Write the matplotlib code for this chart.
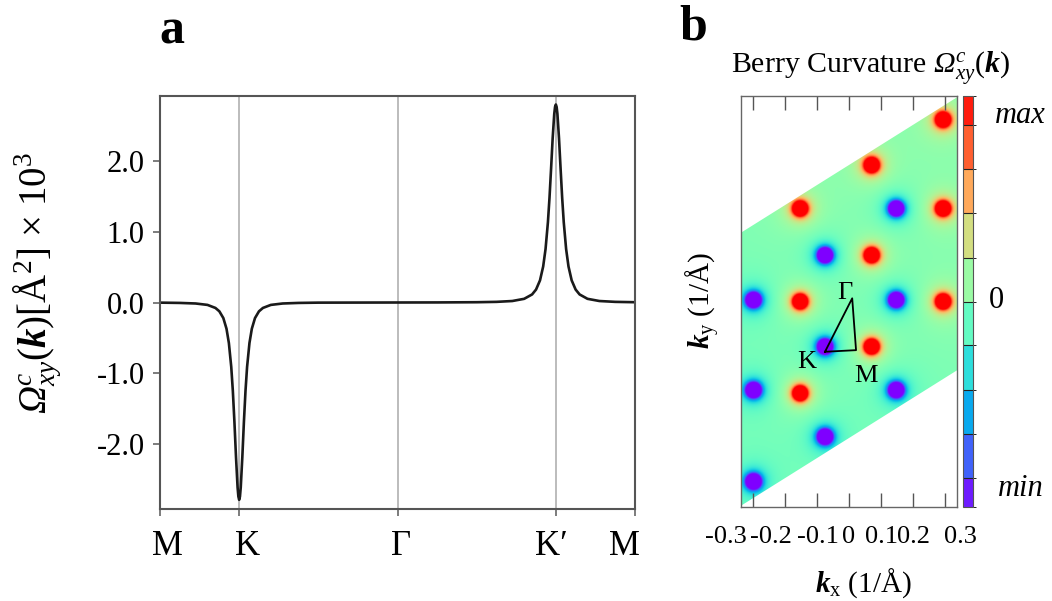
import matplotlib
matplotlib.use("Agg")
import matplotlib.pyplot as plt
import matplotlib.transforms as mtransforms
import numpy as np
from matplotlib.colors import ListedColormap, BoundaryNorm
from matplotlib.patches import Polygon

plt.rcParams['font.family'] = ['Liberation Serif', 'DejaVu Serif']
# italic Omega needs the custom set: rm is italic here, sf is the upright face
plt.rcParams['mathtext.fontset'] = 'custom'
plt.rcParams['mathtext.rm'] = 'Liberation Serif:italic'
plt.rcParams['mathtext.it'] = 'Liberation Serif:italic'
plt.rcParams['mathtext.bf'] = 'Liberation Serif:italic:bold'
plt.rcParams['mathtext.sf'] = 'Liberation Serif'

# ---- panel a: Berry curvature along M-K-Gamma-K'-M (x in units of |KM|)
path_pos = [0, 1, 3, 5, 6]
path_labels = ["M", "K", "Γ", "K′", "M"]
path_x = [0.00, 0.25, 0.45, 0.60, 0.70, 0.75, 0.80, 0.84, 0.87, 0.90,
          0.92, 0.94, 0.96, 0.98, 0.99, 1.00, 1.01, 1.02, 1.04, 1.06,
          1.08, 1.10, 1.13, 1.16, 1.20, 1.25, 1.30, 1.40, 1.55, 1.75,
          2.00, 2.50, 3.00, 3.50, 4.00, 4.25, 4.45, 4.60, 4.70, 4.75,
          4.80, 4.84, 4.87, 4.90, 4.92, 4.94, 4.96, 4.98, 4.99, 5.00,
          5.01, 5.02, 5.04, 5.06, 5.08, 5.10, 5.13, 5.16, 5.20, 5.25,
          5.30, 5.40, 5.55, 5.75, 6.00]
berry = [-0.002, -0.006, -0.014, -0.034, -0.077, -0.125, -0.220, -0.371, -0.573, -0.911,
         -1.249, -1.686, -2.184, -2.614, -2.744, -2.790, -2.744, -2.614, -2.184, -1.686,
         -1.249, -0.911, -0.573, -0.371, -0.220, -0.125, -0.077, -0.034, -0.014, -0.006,
         -0.002, -0.001, 0.000, 0.001, 0.004, 0.009, 0.021, 0.052, 0.114, 0.183,
         0.313, 0.509, 0.755, 1.135, 1.481, 1.894, 2.324, 2.667, 2.766, 2.800,
         2.766, 2.667, 2.324, 1.894, 1.481, 1.135, 0.755, 0.509, 0.313, 0.183,
         0.114, 0.052, 0.021, 0.009, 0.004]
ytick_vals = [-2.0, -1.0, 0.0, 1.0, 2.0]
ytick_text = ["-2.0", "-1.0", "0.0", "1.0", "2.0"]

# ---- panel b: Berry curvature map
red_kx = [0.295, 0.071, -0.153, 0.295, 0.071, -0.153, 0.295, 0.071, -0.153]
red_ky = [0.569, 0.427, 0.291, 0.291, 0.145, 0.000, 0.000, -0.141, -0.287]
blue_kx = [0.148, -0.075, -0.299, 0.148, -0.075, -0.299, 0.148, -0.075, -0.299]
blue_ky = [0.291, 0.145, 0.005, 0.005, -0.141, -0.277, -0.277, -0.423, -0.563]
zone_x = [-0.3375, 0.3375, 0.3375, -0.3375]
zone_y = [-0.638, -0.215, 0.638, 0.215]
tri_x = [-0.075, 0.022, 0.010, -0.075]   # K, M, Gamma, K
tri_y = [-0.157, -0.152, 0.010, -0.157]
tri_labels = ["K", "M", "Γ"]
tri_lx = [-0.132, 0.053, -0.012]
tri_ly = [-0.190, -0.232, 0.027]
kx_ticks = [-0.3, -0.2, -0.1, 0.0, 0.1, 0.2, 0.3]
kx_text = ["-0.3", "-0.2", "-0.1", "0", "0.1", "0.2", "0.3"]
cbar_bounds = [-1.0, -0.857, -0.643, -0.429, -0.214, 0.0, 0.214, 0.429, 0.643, 0.857, 1.0]
cbar_text = ["max", "0", "min"]

W, H = 1052, 601
fig = plt.figure(figsize=(W / 100, H / 100), dpi=100)


def shift(lab, dx):
    lab.set_transform(lab.get_transform() + mtransforms.ScaledTranslation(dx / 100, 0, fig.dpi_scale_trans))


# ================= panel a
ax1 = fig.add_axes([160 / W, 1 - 509 / H, 475 / W, 413 / H])
for p in path_pos[1:-1]:
    ax1.axvline(p, color='#a9a9a9', lw=1.1, zorder=0)
ax1.plot(path_x, berry, color='#1a1a1a', lw=1.9)
ax1.set_xlim(0, 6)
ax1.set_ylim(-2.92, 2.92)
ax1.set_xticks(path_pos, path_labels, fontsize=25)
ax1.set_yticks(ytick_vals, ytick_text, fontsize=22)
ax1.tick_params(axis='x', direction='out', length=5, width=1.2, color='#666666', pad=10)
ax1.tick_params(axis='y', direction='out', length=5, width=1.2, color='#666666', pad=6)
for s in ax1.spines.values():
    s.set_color('#555555')
    s.set_linewidth(1.5)
for lab, dx in zip(ax1.get_xticklabels(), [7, 8, 4, -4, -11]):
    shift(lab, dx)

fig.text(38 / W, 1 - 283 / H,
         r'$\Omega^{c}_{xy}\mathsf{(}\mathbf{k}\mathsf{)[Å}^{\mathsf{2}}\mathsf{]}\ \mathsf{\times}\ \mathsf{10}^{\mathsf{3}}$',
         rotation=90, ha='center', va='center', fontsize=28)
fig.text(172 / W, 1 - 32 / H, 'a', fontsize=36, fontweight='bold', ha='center', va='center')

# ================= panel b
ax2 = fig.add_axes([741 / W, 1 - 507 / H, 216 / W, 411 / H])
xl, yl = (-0.3375, 0.3375), (-0.642, 0.642)
gx, gy = np.meshgrid(np.linspace(xl[0], xl[1], 340), np.linspace(yl[0], yl[1], 640))
field = np.zeros_like(gx)
w, amp = 0.008, 25.0      # spot core
w2, amp2 = 0.03, 0.45     # faint halo
for sign, kxs, kys in [(1, red_kx, red_ky), (-1, blue_kx, blue_ky)]:
    for x0, y0 in zip(kxs, kys):
        r2 = (gx - x0) ** 2 + (gy - y0) ** 2
        field += sign * (amp / (1 + r2 / w ** 2) ** 1.5 + amp2 / (1 + r2 / w2 ** 2))
im = ax2.imshow(field, extent=[xl[0], xl[1], yl[0], yl[1]], origin='lower', cmap='rainbow',
                vmin=-1, vmax=1, aspect='auto', interpolation='bilinear')
zone = Polygon(np.column_stack([zone_x, zone_y]), closed=True, facecolor='none',
               edgecolor='none', transform=ax2.transData)
ax2.add_patch(zone)
im.set_clip_path(zone)
ax2.plot(tri_x, tri_y, color='black', lw=1.3)
for t, x, y in zip(tri_labels, tri_lx, tri_ly):
    ax2.text(x, y, t, fontsize=19, ha='center', va='center')
ax2.set_xlim(*xl)
ax2.set_ylim(*yl)
ax2.set_xticks(kx_ticks, kx_text, fontsize=19)
ax2.set_yticks([])
ax2.tick_params(axis='x', direction='in', top=True, bottom=True, length=10, width=1,
                color='#555555', pad=14)
for s in ax2.spines.values():
    s.set_color('#666666')
    s.set_linewidth(1.0)
for lab, dx in zip(ax2.get_xticklabels(), [-27, -14, 1, 0, 1, 0, 15]):
    shift(lab, dx)

fig.text(731 / W, 1 - 73 / H, r'Berry Curvature $\Omega^{c}_{xy}\mathsf{(}\mathbf{k}\mathsf{)}$',
         fontsize=21.5, ha='left', va='baseline')
fig.text(693 / W, 1 - 27 / H, 'b', fontsize=36, fontweight='bold', ha='center', va='center')
fig.text(863 / W, 1 - 583 / H, r'$\mathbf{k}_{\mathsf{x}}$ (1/Å)', fontsize=21, ha='center', va='center')
fig.text(703 / W, 1 - 301 / H, r'$\mathbf{k}_{\mathsf{y}}$ (1/Å)', fontsize=21, ha='center',
         va='center', rotation=90)

# colorbar with discrete segments
cax = fig.add_axes([963 / W, 1 - 507 / H, 10 / W, 411 / H])
mids = (np.array(cbar_bounds[:-1]) + np.array(cbar_bounds[1:])) / 2
cmap_bar = ListedColormap(plt.get_cmap('rainbow')((mids + 1) / 2))
norm = BoundaryNorm(cbar_bounds, cmap_bar.N)
cb = fig.colorbar(plt.cm.ScalarMappable(norm=norm, cmap=cmap_bar), cax=cax,
                  drawedges=True, spacing='proportional', ticks=[])
cb.outline.set_edgecolor('#555555')
cb.outline.set_linewidth(0.8)
cb.dividers.set_color('#222222')
cb.dividers.set_linewidth(0.8)
fig.text(1020 / W, 1 - 115 / H, cbar_text[0], fontsize=22, style='italic', ha='center', va='center')
fig.text(996 / W, 1 - 300 / H, cbar_text[1], fontsize=22, ha='center', va='center')
fig.text(1021 / W, 1 - 488 / H, cbar_text[2], fontsize=22, style='italic', ha='center', va='center')

fig.savefig('out.png', dpi=100)
